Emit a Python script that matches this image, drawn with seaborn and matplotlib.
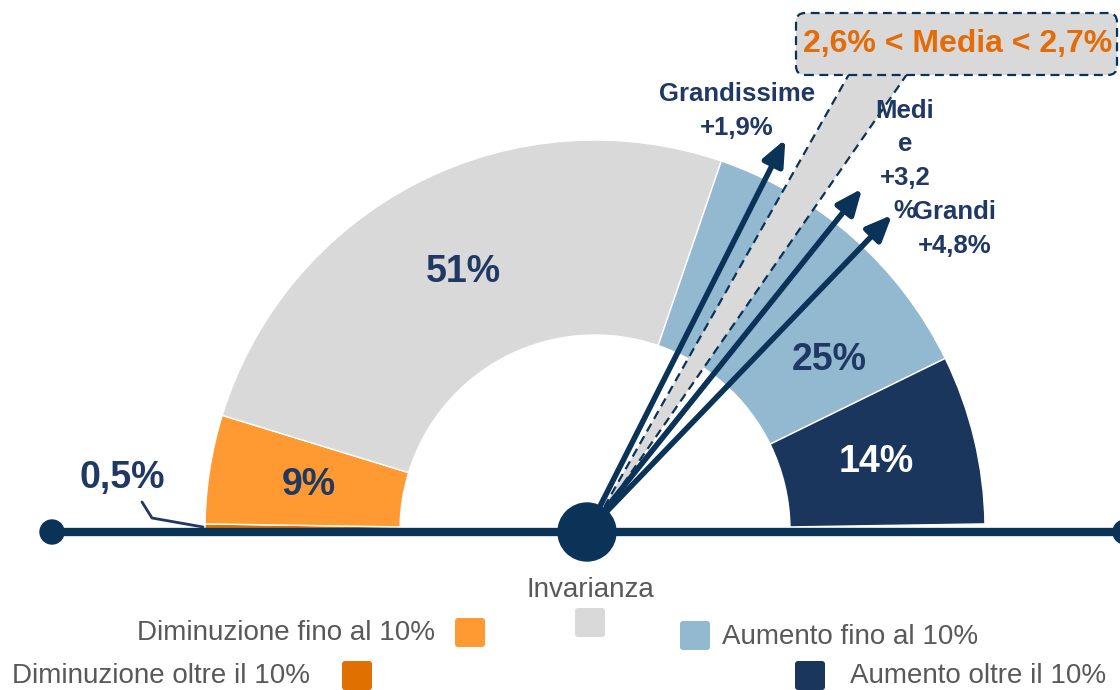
import numpy as np
import matplotlib
matplotlib.use("Agg")
import matplotlib.pyplot as plt
from matplotlib.patches import Wedge, Circle, FancyBboxPatch
import seaborn as sns

# ---------------- data ----------------
categories = ["Diminuzione oltre il 10%", "Diminuzione fino al 10%", "Invarianza",
              "Aumento fino al 10%", "Aumento oltre il 10%"]
shares = [0.5, 9, 51, 25, 14]
share_labels = ["0,5%", "9%", "51%", "25%", "14%"]

arrow_labels = ["Grandissime\n+1,9%", "Medi\ne\n+3,2\n%", "Grandi\n+4,8%"]
arrow_values = [1.9, 3.2, 4.8]
arrow_angles = [63.2, 51.3, 46.1]          # direction (deg)

media_text = "2,6% < Media < 2,7%"
media_range = [2.6, 2.7]
media_angles = [55.3, 60.5]                 # wedge edges (deg)

# ---------------- style ----------------
sns.set_theme(style="white")
plt.rcParams["font.family"] = ["Liberation Sans", "DejaVu Sans"]

colors = ["#E07000", "#FF9A33", "#D9D9D9", "#93B9D0", "#1B365D"]
navy = "#0B3358"
text_navy = "#1F3864"
orange_txt = "#E36C09"
grey_txt = "#595959"

fig = plt.figure(figsize=(11.2, 6.9), dpi=100)
ax = fig.add_axes([0, 0, 1, 1])
ax.set_xlim(0, 1120)
ax.set_ylim(0, 690)
ax.axis("off")

cx, cy = 595, 160
r_out, r_in = 390, 195

# half donut
cum = 0.0
mids = []
for s, c in zip(shares, colors):
    t2 = 180 - cum * 1.8
    t1 = 180 - (cum + s) * 1.8
    ax.add_patch(Wedge((cx, cy), r_out, t1, t2, width=r_out - r_in,
                       facecolor=c, edgecolor="white", lw=1.0, zorder=2))
    mids.append((t1 + t2) / 2)
    cum += s

# share labels
r_lab = (r_out + r_in) / 2 - 3
label_angle = list(mids)
label_angle[3] = 36.0  # 25% label shifted away from arrows
for i, (lab, a) in enumerate(zip(share_labels, label_angle)):
    if i == 0:
        continue
    x = cx + r_lab * np.cos(np.radians(a))
    y = cy + r_lab * np.sin(np.radians(a))
    col = "white" if i == 4 else text_navy
    ax.text(x, y, lab, ha="center", va="center", fontsize=27, fontweight="bold",
            color=col, zorder=5)

# 0,5% label with leader line
ax.text(122, 212, share_labels[0], ha="center", va="center", fontsize=27,
        fontweight="bold", color=text_navy, zorder=5)
ax.plot([142, 152, 203], [188, 172, 163], color=text_navy, lw=2, zorder=5)

# axis line with dots
ox, oy = 587, 158
ax.plot([52, 1125], [oy, oy], color=navy, lw=6, solid_capstyle="butt", zorder=3)
ax.add_patch(Circle((52, oy), 12, color=navy, zorder=4))
ax.add_patch(Circle((1125, oy), 12, color=navy, zorder=4))

# media wedge
ax.add_patch(Wedge((ox + 3, oy), 560, media_angles[0], media_angles[1],
                   facecolor="#D9D9D9", edgecolor="none", zorder=5))
for a in media_angles:
    ax.plot([ox + 3, ox + 3 + 560 * np.cos(np.radians(a))],
            [oy, oy + 560 * np.sin(np.radians(a))],
            color=navy, lw=1.6, ls=(0, (4, 2.5)), zorder=5)

# arrows
L = 440
for a in arrow_angles:
    tip = (ox + L * np.cos(np.radians(a)), oy + L * np.sin(np.radians(a)))
    ax.annotate("", xy=tip, xytext=(ox, oy),
                arrowprops=dict(arrowstyle="-|>,head_length=0.7,head_width=0.3",
                                lw=4, color=navy, shrinkA=0, shrinkB=0,
                                mutation_scale=22), zorder=6)

ax.add_patch(Circle((ox, oy), 29, color=navy, zorder=7))

# arrow labels
lab_pos = [(737, 579), (905, 529), (955, 461)]
for lab, (x, y) in zip(arrow_labels, lab_pos):
    ax.text(x, y, lab, ha="center", va="center", fontsize=18.5, fontweight="bold",
            color=text_navy, linespacing=1.5, zorder=8)

# media box
ax.add_patch(FancyBboxPatch((796, 615), 321, 62,
                            boxstyle="round,pad=0,rounding_size=9",
                            facecolor="#D9D9D9", edgecolor=navy, lw=1.6,
                            ls=(0, (4, 2.5)), zorder=8))
ax.text(958, 646, media_text, ha="center", va="center", fontsize=23,
        fontweight="bold", color=orange_txt, zorder=9)

# legend (manual layout)
def swatch(x, y, c):
    ax.add_patch(FancyBboxPatch((x, y), 30, 29,
                                boxstyle="round,pad=0,rounding_size=3",
                                facecolor=c, edgecolor="none", zorder=5))

fs_leg = 20
# Diminuzione fino al 10%
ax.text(435, 57, categories[1], ha="right", va="center", fontsize=fs_leg,
        color=grey_txt)
swatch(455, 43, colors[1])
# Diminuzione oltre il 10%
ax.text(12, 14, categories[0], ha="left", va="center", fontsize=fs_leg,
        color=grey_txt)
swatch(342, 0, colors[0])
# Invarianza
ax.text(590, 100, categories[2], ha="center", va="center", fontsize=fs_leg,
        color=grey_txt)
swatch(575, 53, colors[2])
# Aumento fino al 10%
swatch(680, 40, colors[3])
ax.text(722, 53, categories[3], ha="left", va="center", fontsize=fs_leg,
        color=grey_txt)
# Aumento oltre il 10%
swatch(795, 0, colors[4])
ax.text(850, 14, categories[4], ha="left", va="center", fontsize=fs_leg,
        color=grey_txt)

fig.savefig("out.png", dpi=100)
